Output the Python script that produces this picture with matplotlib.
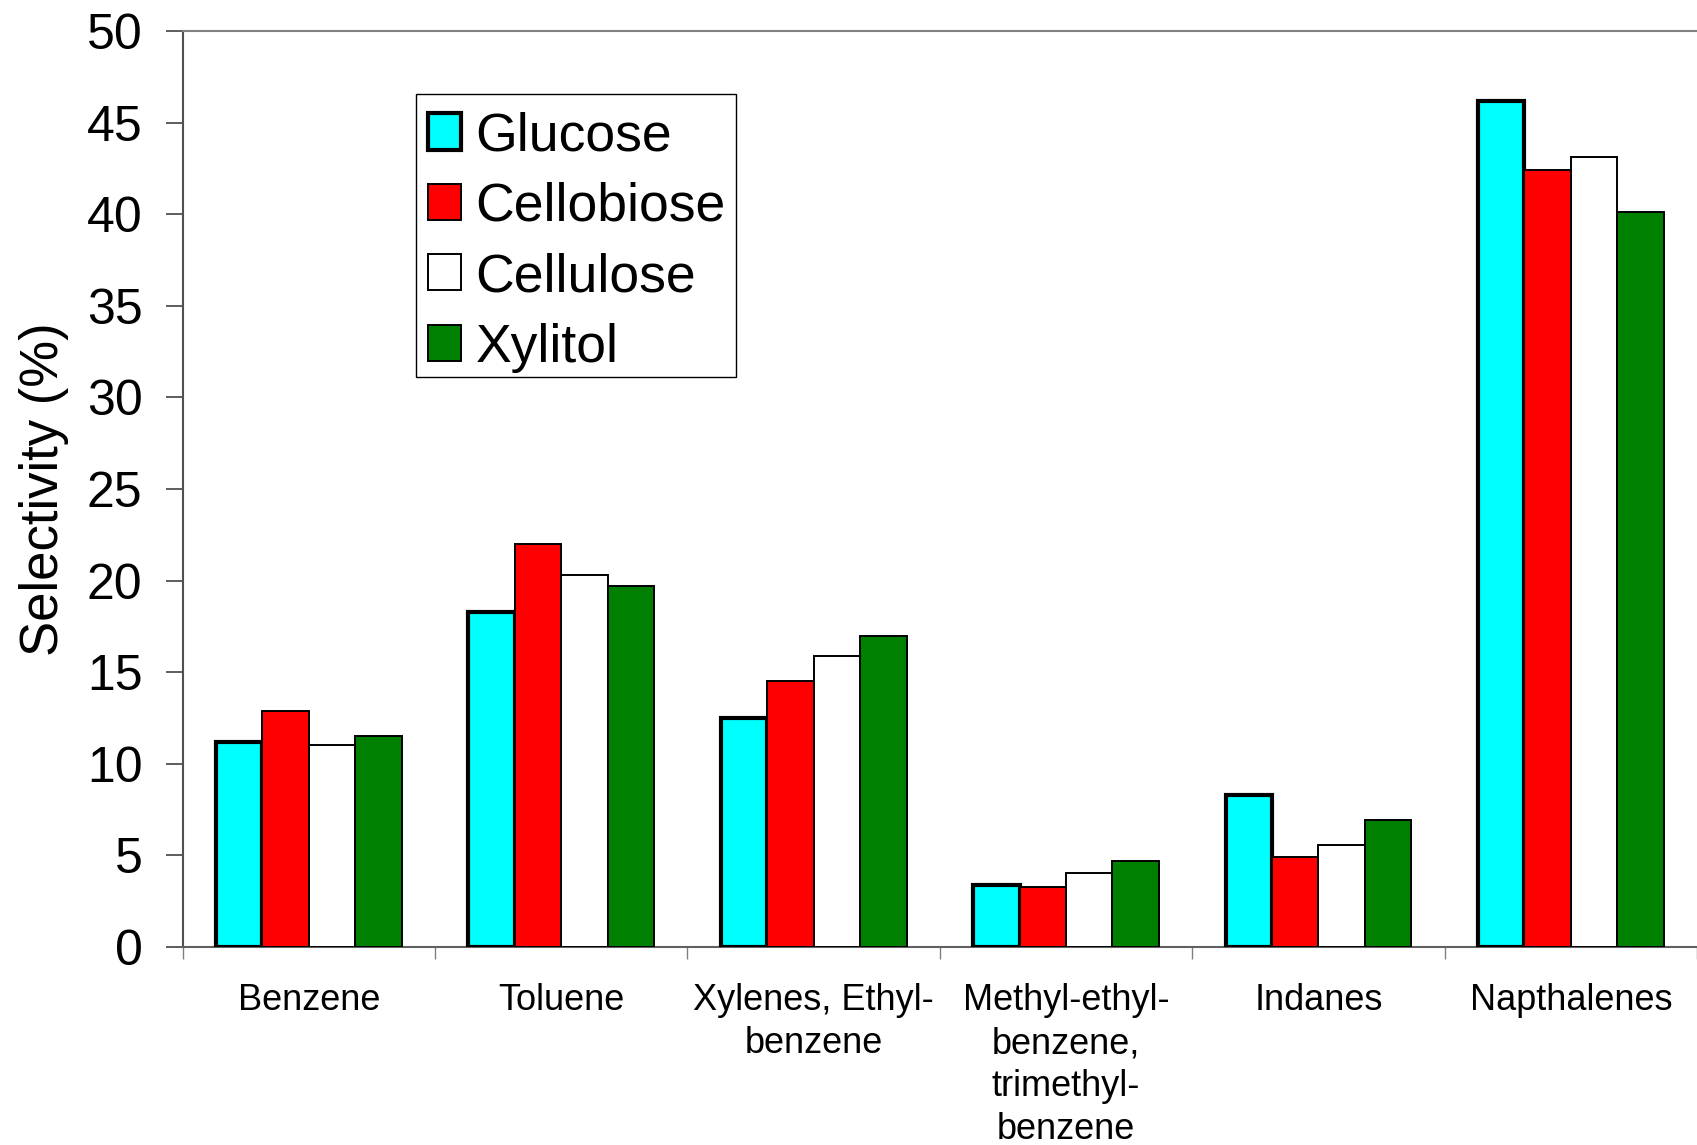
import matplotlib
matplotlib.use("Agg")
import matplotlib.pyplot as plt
from matplotlib.patches import Rectangle
import numpy as np

# Product selectivity by aromatic class for each feedstock
categories = ["Benzene", "Toluene", "Xylenes, Ethyl-\nbenzene",
              "Methyl-ethyl-\nbenzene,\ntrimethyl-\nbenzene", "Indanes", "Napthalenes"]
series_names = ["Glucose", "Cellobiose", "Cellulose", "Xylitol"]
glucose = [11.2, 18.3, 12.5, 3.4, 8.3, 46.2]
cellobiose = [12.9, 22.0, 14.5, 3.3, 4.9, 42.4]
cellulose = [11.0, 20.3, 15.9, 4.05, 5.55, 43.1]
xylitol = [11.5, 19.7, 17.0, 4.7, 6.95, 40.1]
yticks = [0, 5, 10, 15, 20, 25, 30, 35, 40, 45, 50]

series = [glucose, cellobiose, cellulose, xylitol]
colors = ["#00FFFF", "#FF0000", "#FFFFFF", "#008000"]
edge_widths = [3.0, 1.4, 1.4, 1.4]

plt.rcParams["font.family"] = ["Liberation Sans", "DejaVu Sans"]

W, H = 1697, 1145
fig = plt.figure(figsize=(W / 100, H / 100), dpi=100)
left_px, top_px, base_px = 182.7, 31, 947
ax = fig.add_axes([left_px / W, 1 - base_px / H, 1 - left_px / W, (base_px - top_px) / H])

x = np.arange(len(categories))
bw = 0.184
for k, (vals, c, lw, name) in enumerate(zip(series, colors, edge_widths, series_names)):
    ax.bar(x + (k - 1.5) * bw, vals, width=bw, color=c, edgecolor="black",
           linewidth=lw, label=name, zorder=3)

px_per_cat = 253.9
ax.set_xlim(-0.5, -0.5 + (W - left_px) / px_per_cat)
ax.set_ylim(0, 50)

ax.set_yticks(yticks)
ax.set_yticklabels([str(v) for v in yticks], fontsize=36)
ax.tick_params(axis="y", direction="out", length=12, width=1.3, color="#505050", pad=17)

# boundary ticks on the category axis, labels centred under each group
ax.set_xticks(np.arange(-0.5, len(categories), 1.0))
ax.set_xticklabels([])
ax.tick_params(axis="x", which="major", direction="out", length=8.5, width=1.0, color="#808080")
ax.set_xticks(x, minor=True)
ax.set_xticklabels(categories, minor=True, fontsize=26, linespacing=1.3)
ax.tick_params(axis="x", which="minor", length=0, pad=26)

ax.set_ylabel("Selectivity (%)", fontsize=38, labelpad=13)

ax.spines["right"].set_visible(False)
ax.spines["left"].set_color("#505050")
ax.spines["left"].set_linewidth(1.5)
ax.spines["top"].set_color("#808080")
ax.spines["top"].set_linewidth(1.5)
ax.spines["bottom"].set_color("#606060")
ax.spines["bottom"].set_linewidth(1.5)

# legend frame drawn as its own box, entries placed inside it
box_l, box_t, box_r, box_b = 416, 94, 736, 377
frame = Rectangle((box_l / W, 1 - box_b / H), (box_r - box_l) / W, (box_b - box_t) / H,
                  transform=fig.transFigure, facecolor="white", edgecolor="black",
                  linewidth=1.0, zorder=4)
ax.add_artist(frame)

leg = ax.legend(loc="upper left", bbox_to_anchor=(box_l / W, 1 - (box_t + 5.5) / H),
                bbox_transform=fig.transFigure, borderaxespad=0, fontsize=38.5,
                frameon=False, handlelength=0.62, handleheight=0.66, handletextpad=0.27,
                borderpad=0.22, labelspacing=0.382)
leg.set_zorder(5)

fig.savefig("out.png", dpi=100)
